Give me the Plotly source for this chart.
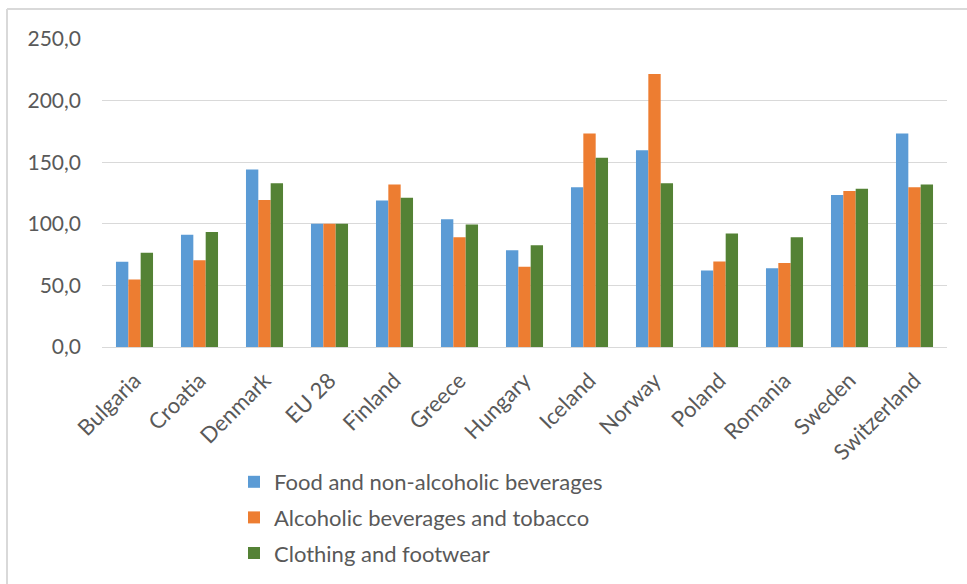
import plotly.graph_objects as go

countries = ["Bulgaria", "Croatia", "Denmark", "EU 28", "Finland", "Greece", "Hungary",
             "Iceland", "Norway", "Poland", "Romania", "Sweden", "Switzerland"]
food = [69.1, 91.1, 144.0, 100.0, 119.0, 103.6, 78.6, 129.6, 159.7, 62.1, 64.0, 123.4, 173.2]
alcohol = [54.8, 70.5, 119.3, 100.0, 131.8, 89.0, 65.1, 173.2, 221.5, 69.4, 68.1, 126.6, 129.6]
clothing = [76.5, 93.3, 132.9, 100.0, 121.2, 99.5, 82.5, 153.7, 132.9, 92.2, 89.0, 128.5, 131.8]
series_names = ["Food and non-alcoholic beverages", "Alcoholic beverages and tobacco",
                "Clothing and footwear"]
colors = ["#5B9BD5", "#ED7D31", "#548235"]
yticks = [0, 50, 100, 150, 200, 250]
ytick_labels = ["0,0", "50,0", "100,0", "150,0", "200,0", "250,0"]

fig = go.Figure()
for i, (name, vals) in enumerate(zip(series_names, [food, alcohol, clothing])):
    fig.add_trace(go.Bar(x=countries, y=vals, name=name, marker_color=colors[i],
                         marker_line_width=0, legendgroup=str(i)))

W, H = 967, 584
L, R, T, B = 102, 20, 39, 237
pw, ph = W - L - R, H - T - B
bx = (7 - L) / pw
by = (H - B - 9) / ph

fig.update_layout(
    width=W, height=H,
    margin=dict(l=L, r=R, t=T, b=B, autoexpand=False),
    paper_bgcolor="white", plot_bgcolor="white",
    barmode="group", bargap=0.43, bargroupgap=0,
    font=dict(family="Lato, sans-serif", color="#595959", size=20),
    xaxis=dict(tickangle=-45, tickfont=dict(size=22, color="#595959"), showgrid=False,
               showline=True, linecolor="#d9d9d9", linewidth=1, ticks="", ticklabelstandoff=11,
               automargin=False),
    yaxis=dict(range=[0, 250], tickvals=yticks, ticktext=ytick_labels,
               tickfont=dict(size=21, color="#595959"), showgrid=True,
               gridcolor="#d9d9d9", gridwidth=1, zeroline=False, ticks="", ticklabelstandoff=20,
               automargin=False),
    legend=dict(orientation="v", x=(234 - L) / pw, xanchor="left",
                y=(H - B - 461) / ph, yanchor="top", font=dict(size=22, color="#595959"),
                tracegroupgap=4, itemwidth=30, bgcolor="rgba(0,0,0,0)"),
    showlegend=True,
    shapes=[
        dict(type="line", xref="paper", yref="paper", x0=bx, x1=1 + (R + 5) / pw, y0=by, y1=by,
             line=dict(color="#d9d9d9", width=2)),
        dict(type="line", xref="paper", yref="paper", x0=bx, x1=bx, y0=by, y1=-(B + 5) / ph,
             line=dict(color="#d9d9d9", width=2)),
    ],
)

fig.write_html("out.html")
